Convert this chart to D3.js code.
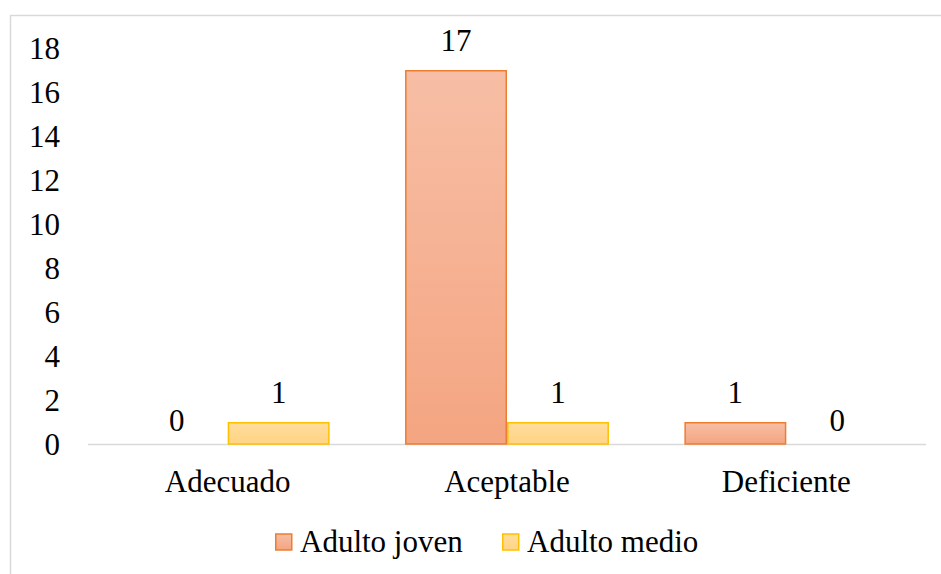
<!DOCTYPE html>
<html><head><meta charset="utf-8">
<script src="https://cdn.jsdelivr.net/npm/d3@7"></script>
<style>html,body{margin:0;padding:0;background:#fff;}svg{display:block;}</style>
</head><body>
<script>
const categories = ["Adecuado", "Aceptable", "Deficiente"];
const seriesNames = ["Adulto joven", "Adulto medio"];
const joven = [0, 17, 1];
const medio = [1, 1, 0];
const yTicks = [0, 2, 4, 6, 8, 10, 12, 14, 16, 18];

const W = 941, H = 574, FS = 31, FF = "Liberation Serif";
const svg = d3.select("body").append("svg").attr("width", W).attr("height", H)
  .attr("font-family", FF);

const defs = svg.append("defs");
const g1 = defs.append("linearGradient").attr("id", "gJ").attr("x1", 0).attr("y1", 0).attr("x2", 0).attr("y2", 1);
g1.append("stop").attr("offset", "0%").attr("stop-color", "#F7BEA5");
g1.append("stop").attr("offset", "100%").attr("stop-color", "#F4A581");
const g2 = defs.append("linearGradient").attr("id", "gM").attr("x1", 0).attr("y1", 0).attr("x2", 0).attr("y2", 1);
g2.append("stop").attr("offset", "0%").attr("stop-color", "#FFDD9C");
g2.append("stop").attr("offset", "100%").attr("stop-color", "#FFD484");

// frame
svg.append("rect").attr("x", 10.5).attr("y", 15.5).attr("width", W + 20).attr("height", H + 20)
  .attr("fill", "none").attr("stroke", "#D9D9D9").attr("stroke-width", 1.5);

const x0 = d3.scaleBand().domain(categories).range([88, 926]).paddingInner(0.27).paddingOuter(0.135);
const x1 = d3.scaleBand().domain(seriesNames).range([0, x0.bandwidth()]);
const y = d3.scaleLinear().domain([0, 18]).range([444, 48]);

const data = categories.map((c, i) => ({ cat: c, vals: [joven[i], medio[i]] }));
const fills = ["url(#gJ)", "url(#gM)"];
const strokes = ["#ED7D31", "#FFC000"];

// axis line
svg.append("line").attr("x1", 88).attr("x2", 926).attr("y1", 444.5).attr("y2", 444.5)
  .attr("stroke", "#D9D9D9").attr("stroke-width", 1.5);

// y tick labels
const yAxis = d3.axisLeft(y).tickValues(yTicks).tickSize(0).tickPadding(0);
const ya = svg.append("g").attr("transform", "translate(60,0)").call(yAxis);
ya.select(".domain").remove();
ya.attr("font-size", FS).attr("font-family", FF);
ya.selectAll("text").attr("fill", "#000").attr("dy", "0.34em").attr("font-family", FF);

// x labels
const xAxis = d3.axisBottom(x0).tickSize(0).tickPadding(0);
const xa = svg.append("g").attr("transform", "translate(0,492)").call(xAxis);
xa.select(".domain").remove();
xa.attr("font-size", FS).attr("font-family", FF);
xa.selectAll("text").attr("fill", "#000").attr("dy", 0).attr("font-family", FF);

const grp = svg.selectAll(".grp").data(data).enter().append("g")
  .attr("transform", d => `translate(${x0(d.cat)},0)`);
grp.selectAll("rect").data(d => d.vals.map((v, k) => ({ v, k })).filter(o => o.v > 0)).enter().append("rect")
  .attr("x", o => x1(seriesNames[o.k]) + 0.75)
  .attr("width", x1.bandwidth() - 1.5)
  .attr("y", o => y(o.v) + 0.75)
  .attr("height", o => y(0) - y(o.v) - 0.75)
  .attr("fill", o => fills[o.k]).attr("stroke", o => strokes[o.k]).attr("stroke-width", 1.5);
grp.selectAll("text").data(d => d.vals.map((v, k) => ({ v, k }))).enter().append("text")
  .attr("x", o => x1(seriesNames[o.k]) + x1.bandwidth() / 2)
  .attr("y", o => y(o.v) - (o.v === 0 ? 13 : 19))
  .attr("text-anchor", "middle").attr("font-size", FS).attr("font-family", FF).attr("fill", "#000")
  .text(o => o.v);

// legend
const leg = [{ x: 275, name: seriesNames[0], k: 0 }, { x: 502, name: seriesNames[1], k: 1 }];
const lg = svg.selectAll(".leg").data(leg).enter().append("g");
lg.append("rect").attr("x", d => d.x + 0.75).attr("y", 534).attr("width", 16).attr("height", 16)
  .attr("fill", d => fills[d.k]).attr("stroke", d => strokes[d.k]).attr("stroke-width", 1.5);
lg.append("text").attr("x", d => d.x + 25).attr("y", 552).attr("font-size", FS).attr("font-family", FF).attr("fill", "#000")
  .text(d => d.name);
</script>
</body></html>
